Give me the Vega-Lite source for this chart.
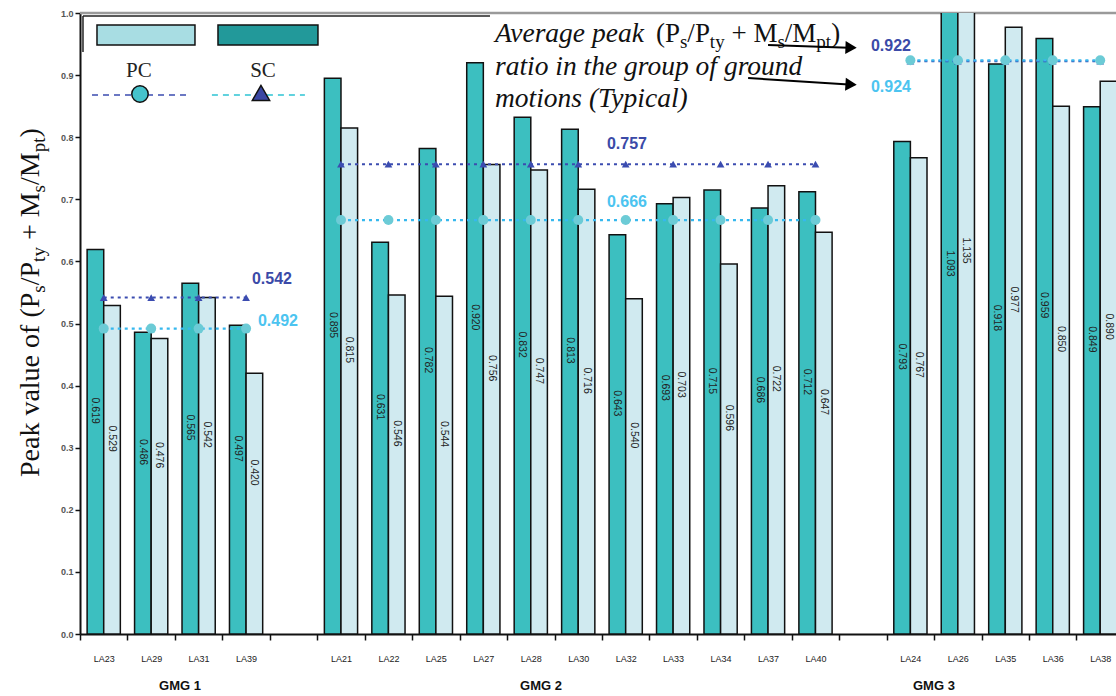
{
  "$schema": "https://vega.github.io/schema/vega-lite/v6.json",
  "width": 1036,
  "height": 621,
  "autosize": {"type": "none"},
  "padding": {"left": 80, "top": 13, "right": 0, "bottom": 62},
  "background": "white",
  "config": {"view": {"stroke": null}, "font": "Liberation Sans"},
  "data": {
    "values": [
      {"group": "GMG 1", "la": "LA23", "series": "SC", "value": 0.619},
      {"group": "GMG 1", "la": "LA23", "series": "PC", "value": 0.529},
      {"group": "GMG 1", "la": "LA29", "series": "SC", "value": 0.486},
      {"group": "GMG 1", "la": "LA29", "series": "PC", "value": 0.476},
      {"group": "GMG 1", "la": "LA31", "series": "SC", "value": 0.565},
      {"group": "GMG 1", "la": "LA31", "series": "PC", "value": 0.542},
      {"group": "GMG 1", "la": "LA39", "series": "SC", "value": 0.497},
      {"group": "GMG 1", "la": "LA39", "series": "PC", "value": 0.420},
      {"group": "GMG 2", "la": "LA21", "series": "SC", "value": 0.895},
      {"group": "GMG 2", "la": "LA21", "series": "PC", "value": 0.815},
      {"group": "GMG 2", "la": "LA22", "series": "SC", "value": 0.631},
      {"group": "GMG 2", "la": "LA22", "series": "PC", "value": 0.546},
      {"group": "GMG 2", "la": "LA25", "series": "SC", "value": 0.782},
      {"group": "GMG 2", "la": "LA25", "series": "PC", "value": 0.544},
      {"group": "GMG 2", "la": "LA27", "series": "SC", "value": 0.920},
      {"group": "GMG 2", "la": "LA27", "series": "PC", "value": 0.756},
      {"group": "GMG 2", "la": "LA28", "series": "SC", "value": 0.832},
      {"group": "GMG 2", "la": "LA28", "series": "PC", "value": 0.747},
      {"group": "GMG 2", "la": "LA30", "series": "SC", "value": 0.813},
      {"group": "GMG 2", "la": "LA30", "series": "PC", "value": 0.716},
      {"group": "GMG 2", "la": "LA32", "series": "SC", "value": 0.643},
      {"group": "GMG 2", "la": "LA32", "series": "PC", "value": 0.540},
      {"group": "GMG 2", "la": "LA33", "series": "SC", "value": 0.693},
      {"group": "GMG 2", "la": "LA33", "series": "PC", "value": 0.703},
      {"group": "GMG 2", "la": "LA34", "series": "SC", "value": 0.715},
      {"group": "GMG 2", "la": "LA34", "series": "PC", "value": 0.596},
      {"group": "GMG 2", "la": "LA37", "series": "SC", "value": 0.686},
      {"group": "GMG 2", "la": "LA37", "series": "PC", "value": 0.722},
      {"group": "GMG 2", "la": "LA40", "series": "SC", "value": 0.712},
      {"group": "GMG 2", "la": "LA40", "series": "PC", "value": 0.647},
      {"group": "GMG 3", "la": "LA24", "series": "SC", "value": 0.793},
      {"group": "GMG 3", "la": "LA24", "series": "PC", "value": 0.767},
      {"group": "GMG 3", "la": "LA26", "series": "SC", "value": 1.093},
      {"group": "GMG 3", "la": "LA26", "series": "PC", "value": 1.135},
      {"group": "GMG 3", "la": "LA35", "series": "SC", "value": 0.918},
      {"group": "GMG 3", "la": "LA35", "series": "PC", "value": 0.977},
      {"group": "GMG 3", "la": "LA36", "series": "SC", "value": 0.959},
      {"group": "GMG 3", "la": "LA36", "series": "PC", "value": 0.850},
      {"group": "GMG 3", "la": "LA38", "series": "SC", "value": 0.849},
      {"group": "GMG 3", "la": "LA38", "series": "PC", "value": 0.890}
    ]
  },
  "transform": [
    {"calculate": "indexof(['LA23','LA29','LA31','LA39','','LA21','LA22','LA25','LA27','LA28','LA30','LA32','LA33','LA34','LA37','LA40','','LA24','LA26','LA35','LA36','LA38'], datum.la)", "as": "slot"},
    {"calculate": "datum.slot + (datum.series == 'SC' ? 0.15 : 0.5)", "as": "x0"},
    {"calculate": "datum.x0 + 0.35", "as": "x1"},
    {"calculate": "datum.x0 + 0.175", "as": "xm"},
    {"calculate": "datum.slot + 0.5", "as": "xc"},
    {"calculate": "datum.value * 0.5 + 0.05", "as": "labelPos"},
    {"joinaggregate": [{"op": "mean", "field": "value", "as": "avg"}], "groupby": ["group", "series"]}
  ],
  "layer": [
    {
      "mark": {"type": "rule", "color": "#9a9a9a", "strokeWidth": 2.5},
      "data": {"values": [{}]},
      "encoding": {
        "x": {"datum": 0, "type": "quantitative"},
        "x2": {"datum": 21.833},
        "y": {"datum": 1, "type": "quantitative"}
      }
    },
    {
      "mark": {"type": "rect", "stroke": "#111", "strokeWidth": 1.5, "clip": true},
      "encoding": {
        "x": {
          "field": "x0",
          "type": "quantitative",
          "scale": {"domain": [0, 21.833], "nice": false, "zero": false, "padding": 0},
          "axis": {
            "title": null,
            "values": [0, 1, 2, 3, 4, 5, 6, 7, 8, 9, 10, 11, 12, 13, 14, 15, 16, 17, 18, 19, 20, 21],
            "labelExpr": "['LA23','LA29','LA31','LA39','','LA21','LA22','LA25','LA27','LA28','LA30','LA32','LA33','LA34','LA37','LA40','','LA24','LA26','LA35','LA36','LA38'][datum.value]",
            "labelOffset": 23.7,
            "labelFlush": false,
            "labelBound": false,
            "labelOverlap": false,
            "labelAngle": 0,
            "labelFont": "Liberation Sans",
            "labelFontSize": 9,
            "labelColor": "#222",
            "labelPadding": 14,
            "grid": false,
            "tickSize": 6,
            "tickColor": "#111",
            "tickWidth": 1.5,
            "domainColor": "#111",
            "domainWidth": 2
          }
        },
        "x2": {"field": "x1"},
        "y": {
          "field": "value",
          "type": "quantitative",
          "scale": {"domain": [0, 1], "nice": false, "padding": 0},
          "axis": {
            "title": null,
            "values": [0, 0.1, 0.2, 0.3, 0.4, 0.5, 0.6, 0.7, 0.8, 0.9, 1.0],
            "format": ".1f",
            "grid": false,
            "labelFont": "Liberation Sans",
            "labelFontWeight": "bold",
            "labelFontSize": 9,
            "labelColor": "#555",
            "labelPadding": 2,
            "tickSize": 5,
            "tickColor": "#111",
            "tickWidth": 1.5,
            "domainColor": "#111",
            "domainWidth": 2
          }
        },
        "y2": {"datum": 0},
        "fill": {"field": "series", "type": "nominal", "scale": {"domain": ["SC", "PC"], "range": ["#3cbfc0", "#d0eaf0"]}, "legend": null}
      }
    },
    {
      "mark": {"type": "text", "angle": 90, "fontSize": 10.5, "color": "#222", "align": "center", "baseline": "middle", "clip": true},
      "encoding": {
        "x": {"field": "xm", "type": "quantitative"},
        "y": {"field": "labelPos", "type": "quantitative"},
        "text": {"field": "value", "type": "quantitative", "format": ".3f"}
      }
    },
    {
      "transform": [{"filter": "datum.series == 'SC'"}],
      "mark": {"type": "line", "color": "#3b4cb0", "strokeWidth": 2, "strokeDash": [3, 4]},
      "encoding": {
        "x": {"field": "xc", "type": "quantitative"},
        "y": {"field": "avg", "type": "quantitative"},
        "detail": {"field": "group", "type": "nominal"}
      }
    },
    {
      "transform": [{"filter": "datum.series == 'SC'"}],
      "mark": {"type": "point", "shape": "triangle-up", "filled": true, "color": "#3b4cb0", "size": 60, "opacity": 1},
      "encoding": {
        "x": {"field": "xc", "type": "quantitative"},
        "y": {"field": "avg", "type": "quantitative"}
      }
    },
    {
      "transform": [{"filter": "datum.series == 'PC'"}],
      "mark": {"type": "line", "color": "#36b8ee", "strokeWidth": 2.2, "strokeDash": [3, 4]},
      "encoding": {
        "x": {"field": "xc", "type": "quantitative"},
        "y": {"field": "avg", "type": "quantitative"},
        "detail": {"field": "group", "type": "nominal"}
      }
    },
    {
      "transform": [{"filter": "datum.series == 'PC'"}],
      "mark": {"type": "point", "shape": "circle", "filled": true, "color": "#6ccbd6", "size": 100, "opacity": 1},
      "encoding": {
        "x": {"field": "xc", "type": "quantitative"},
        "y": {"field": "avg", "type": "quantitative"}
      }
    },
    {
      "data": {"values": [{}]},
      "mark": {"type": "text", "text": "Peak value of (P", "font": "Liberation Serif", "fontSize": 28, "angle": -90, "color": "#111", "align": "left", "baseline": "alphabetic"},
      "encoding": {"x": {"datum": -0.864, "type": "quantitative"}, "y": {"datum": 0.2528, "type": "quantitative"}}
    },
    {
      "data": {"values": [{}]},
      "mark": {"type": "text", "text": "s", "font": "Liberation Serif", "fontSize": 19, "angle": -90, "color": "#111", "align": "left", "baseline": "alphabetic"},
      "encoding": {"x": {"datum": -0.7376, "type": "quantitative"}, "y": {"datum": 0.5496, "type": "quantitative"}}
    },
    {
      "data": {"values": [{}]},
      "mark": {"type": "text", "text": "/P", "font": "Liberation Serif", "fontSize": 28, "angle": -90, "color": "#111", "align": "left", "baseline": "alphabetic"},
      "encoding": {"x": {"datum": -0.864, "type": "quantitative"}, "y": {"datum": 0.5615, "type": "quantitative"}}
    },
    {
      "data": {"values": [{}]},
      "mark": {"type": "text", "text": "ty", "font": "Liberation Serif", "fontSize": 19, "angle": -90, "color": "#111", "align": "left", "baseline": "alphabetic"},
      "encoding": {"x": {"datum": -0.7376, "type": "quantitative"}, "y": {"datum": 0.5992, "type": "quantitative"}}
    },
    {
      "data": {"values": [{}]},
      "mark": {"type": "text", "text": "+ M", "font": "Liberation Serif", "fontSize": 28, "angle": -90, "color": "#111", "align": "left", "baseline": "alphabetic"},
      "encoding": {"x": {"datum": -0.864, "type": "quantitative"}, "y": {"datum": 0.6343, "type": "quantitative"}}
    },
    {
      "data": {"values": [{}]},
      "mark": {"type": "text", "text": "s", "font": "Liberation Serif", "fontSize": 19, "angle": -90, "color": "#111", "align": "left", "baseline": "alphabetic"},
      "encoding": {"x": {"datum": -0.7376, "type": "quantitative"}, "y": {"datum": 0.7111, "type": "quantitative"}}
    },
    {
      "data": {"values": [{}]},
      "mark": {"type": "text", "text": "/M", "font": "Liberation Serif", "fontSize": 28, "angle": -90, "color": "#111", "align": "left", "baseline": "alphabetic"},
      "encoding": {"x": {"datum": -0.864, "type": "quantitative"}, "y": {"datum": 0.7230, "type": "quantitative"}}
    },
    {
      "data": {"values": [{}]},
      "mark": {"type": "text", "text": "pt", "font": "Liberation Serif", "fontSize": 19, "angle": -90, "color": "#111", "align": "left", "baseline": "alphabetic"},
      "encoding": {"x": {"datum": -0.7376, "type": "quantitative"}, "y": {"datum": 0.7757, "type": "quantitative"}}
    },
    {
      "data": {"values": [{}]},
      "mark": {"type": "text", "text": ")", "font": "Liberation Serif", "fontSize": 28, "angle": -90, "color": "#111", "align": "left", "baseline": "alphabetic"},
      "encoding": {"x": {"datum": -0.864, "type": "quantitative"}, "y": {"datum": 0.7995, "type": "quantitative"}}
    },
    {
      "data": {"values": [{}]},
      "mark": {"type": "rule", "color": "#222", "strokeWidth": 1.5},
      "encoding": {
        "x": {"datum": 0.063, "type": "quantitative"},
        "x2": {"datum": 8.64},
        "y": {"datum": 0.9952, "type": "quantitative"}
      }
    },
    {
      "data": {"values": [{}]},
      "mark": {"type": "rule", "color": "#222", "strokeWidth": 1.5},
      "encoding": {
        "x": {"datum": 0.063, "type": "quantitative"},
        "y": {"datum": 0.9952, "type": "quantitative"},
        "y2": {"datum": 0.9372}
      }
    },
    {
      "data": {"values": [{}]},
      "mark": {"type": "rect", "fill": "#a8dde3", "stroke": "#111", "strokeWidth": 1.5},
      "encoding": {
        "x": {"datum": 0.358, "type": "quantitative"},
        "x2": {"datum": 2.423},
        "y": {"datum": 0.9807, "type": "quantitative"},
        "y2": {"datum": 0.9485}
      }
    },
    {
      "data": {"values": [{}]},
      "mark": {"type": "rect", "fill": "#22999a", "stroke": "#111", "strokeWidth": 1.5},
      "encoding": {
        "x": {"datum": 2.908, "type": "quantitative"},
        "x2": {"datum": 5.015},
        "y": {"datum": 0.9807, "type": "quantitative"},
        "y2": {"datum": 0.9485}
      }
    },
    {
      "data": {"values": [{}]},
      "mark": {"type": "text", "text": "PC", "font": "Liberation Serif", "fontSize": 21, "color": "#222", "align": "center", "baseline": "middle"},
      "encoding": {"x": {"datum": 1.24, "type": "quantitative"}, "y": {"datum": 0.906, "type": "quantitative"}}
    },
    {
      "data": {"values": [{}]},
      "mark": {"type": "text", "text": "SC", "font": "Liberation Serif", "fontSize": 21, "color": "#222", "align": "center", "baseline": "middle"},
      "encoding": {"x": {"datum": 3.856, "type": "quantitative"}, "y": {"datum": 0.906, "type": "quantitative"}}
    },
    {
      "data": {"values": [{}]},
      "mark": {"type": "rule", "color": "#3b4cb0", "strokeWidth": 1.5, "strokeDash": [6, 5]},
      "encoding": {
        "x": {"datum": 0.253, "type": "quantitative"},
        "x2": {"datum": 2.255},
        "y": {"datum": 0.868, "type": "quantitative"}
      }
    },
    {
      "data": {"values": [{}]},
      "mark": {"type": "point", "shape": "circle", "filled": true, "fill": "#46c3cc", "stroke": "#111", "strokeWidth": 1.5, "size": 270, "opacity": 1},
      "encoding": {"x": {"datum": 1.264, "type": "quantitative"}, "y": {"datum": 0.8696, "type": "quantitative"}}
    },
    {
      "data": {"values": [{}]},
      "mark": {"type": "rule", "color": "#2ec4d4", "strokeWidth": 1.5, "strokeDash": [6, 5]},
      "encoding": {
        "x": {"datum": 2.78, "type": "quantitative"},
        "x2": {"datum": 4.74},
        "y": {"datum": 0.868, "type": "quantitative"}
      }
    },
    {
      "data": {"values": [{}]},
      "mark": {"type": "point", "shape": "triangle-up", "filled": true, "fill": "#3a47a3", "stroke": "#111", "strokeWidth": 1.5, "size": 300, "opacity": 1},
      "encoding": {"x": {"datum": 3.814, "type": "quantitative"}, "y": {"datum": 0.8712, "type": "quantitative"}}
    },
    {
      "data": {"values": [{}]},
      "mark": {"type": "text", "text": "Average peak", "font": "Liberation Serif", "fontStyle": "italic", "fontSize": 27.5, "color": "#111", "align": "left", "baseline": "alphabetic"},
      "encoding": {"x": {"datum": 8.745, "type": "quantitative"}, "y": {"datum": 0.9533, "type": "quantitative"}}
    },
    {
      "data": {"values": [{}]},
      "mark": {"type": "text", "text": "(P", "font": "Liberation Serif", "fontSize": 27, "color": "#111", "align": "left", "baseline": "alphabetic"},
      "encoding": {"x": {"datum": 12.138, "type": "quantitative"}, "y": {"datum": 0.9533, "type": "quantitative"}}
    },
    {
      "data": {"values": [{}]},
      "mark": {"type": "text", "text": "s", "font": "Liberation Serif", "fontSize": 19, "color": "#111", "align": "left", "baseline": "alphabetic"},
      "encoding": {"x": {"datum": 12.644, "type": "quantitative"}, "y": {"datum": 0.9436, "type": "quantitative"}}
    },
    {
      "data": {"values": [{}]},
      "mark": {"type": "text", "text": "/P", "font": "Liberation Serif", "fontSize": 27, "color": "#111", "align": "left", "baseline": "alphabetic"},
      "encoding": {"x": {"datum": 12.8, "type": "quantitative"}, "y": {"datum": 0.9533, "type": "quantitative"}}
    },
    {
      "data": {"values": [{}]},
      "mark": {"type": "text", "text": "ty", "font": "Liberation Serif", "fontSize": 19, "color": "#111", "align": "left", "baseline": "alphabetic"},
      "encoding": {"x": {"datum": 13.274, "type": "quantitative"}, "y": {"datum": 0.9436, "type": "quantitative"}}
    },
    {
      "data": {"values": [{}]},
      "mark": {"type": "text", "text": "+ M", "font": "Liberation Serif", "fontSize": 27, "color": "#111", "align": "left", "baseline": "alphabetic"},
      "encoding": {"x": {"datum": 13.729, "type": "quantitative"}, "y": {"datum": 0.9533, "type": "quantitative"}}
    },
    {
      "data": {"values": [{}]},
      "mark": {"type": "text", "text": "s", "font": "Liberation Serif", "fontSize": 19, "color": "#111", "align": "left", "baseline": "alphabetic"},
      "encoding": {"x": {"datum": 14.698, "type": "quantitative"}, "y": {"datum": 0.9436, "type": "quantitative"}}
    },
    {
      "data": {"values": [{}]},
      "mark": {"type": "text", "text": "/M", "font": "Liberation Serif", "fontSize": 27, "color": "#111", "align": "left", "baseline": "alphabetic"},
      "encoding": {"x": {"datum": 14.854, "type": "quantitative"}, "y": {"datum": 0.9533, "type": "quantitative"}}
    },
    {
      "data": {"values": [{}]},
      "mark": {"type": "text", "text": "pt", "font": "Liberation Serif", "fontSize": 19, "color": "#111", "align": "left", "baseline": "alphabetic"},
      "encoding": {"x": {"datum": 15.518, "type": "quantitative"}, "y": {"datum": 0.9436, "type": "quantitative"}}
    },
    {
      "data": {"values": [{}]},
      "mark": {"type": "text", "text": ")", "font": "Liberation Serif", "fontSize": 27, "color": "#111", "align": "left", "baseline": "alphabetic"},
      "encoding": {"x": {"datum": 15.83, "type": "quantitative"}, "y": {"datum": 0.9533, "type": "quantitative"}}
    },
    {
      "data": {"values": [{}]},
      "mark": {"type": "text", "text": "ratio in the group of ground", "font": "Liberation Serif", "fontStyle": "italic", "fontSize": 27.5, "color": "#111", "align": "left", "baseline": "alphabetic"},
      "encoding": {"x": {"datum": 8.745, "type": "quantitative"}, "y": {"datum": 0.9002, "type": "quantitative"}}
    },
    {
      "data": {"values": [{}]},
      "mark": {"type": "text", "text": "motions (Typical)", "font": "Liberation Serif", "fontStyle": "italic", "fontSize": 27.5, "color": "#111", "align": "left", "baseline": "alphabetic"},
      "encoding": {"x": {"datum": 8.745, "type": "quantitative"}, "y": {"datum": 0.8486, "type": "quantitative"}}
    },
    {
      "data": {"values": [{}]},
      "mark": {"type": "rule", "color": "#000", "strokeWidth": 2},
      "encoding": {
        "x": {"datum": 14.5, "type": "quantitative"},
        "x2": {"datum": 16.2},
        "y": {"datum": 0.9485, "type": "quantitative"},
        "y2": {"datum": 0.9442}
      }
    },
    {
      "data": {"values": [{}]},
      "mark": {"type": "point", "shape": "triangle-right", "filled": true, "color": "#000", "size": 170, "opacity": 1, "angle": 2},
      "encoding": {"x": {"datum": 16.25, "type": "quantitative"}, "y": {"datum": 0.9442, "type": "quantitative"}}
    },
    {
      "data": {"values": [{}]},
      "mark": {"type": "rule", "color": "#000", "strokeWidth": 2},
      "encoding": {
        "x": {"datum": 14.08, "type": "quantitative"},
        "x2": {"datum": 16.2},
        "y": {"datum": 0.8953, "type": "quantitative"},
        "y2": {"datum": 0.8849}
      }
    },
    {
      "data": {"values": [{}]},
      "mark": {"type": "point", "shape": "triangle-right", "filled": true, "color": "#000", "size": 170, "opacity": 1, "angle": 3.5},
      "encoding": {"x": {"datum": 16.25, "type": "quantitative"}, "y": {"datum": 0.8849, "type": "quantitative"}}
    },
    {
      "data": {"values": [{}]},
      "mark": {"type": "text", "text": "0.542", "fontSize": 16, "fontWeight": "bold", "color": "#3b4aa8", "align": "center", "baseline": "middle"},
      "encoding": {"x": {"datum": 4.046, "type": "quantitative"}, "y": {"datum": 0.5717, "type": "quantitative"}}
    },
    {
      "data": {"values": [{}]},
      "mark": {"type": "text", "text": "0.492", "fontSize": 16, "fontWeight": "bold", "color": "#4cc4f0", "align": "center", "baseline": "middle"},
      "encoding": {"x": {"datum": 4.172, "type": "quantitative"}, "y": {"datum": 0.504, "type": "quantitative"}}
    },
    {
      "data": {"values": [{}]},
      "mark": {"type": "text", "text": "0.757", "fontSize": 16, "fontWeight": "bold", "color": "#3b4aa8", "align": "center", "baseline": "middle"},
      "encoding": {"x": {"datum": 11.527, "type": "quantitative"}, "y": {"datum": 0.789, "type": "quantitative"}}
    },
    {
      "data": {"values": [{}]},
      "mark": {"type": "text", "text": "0.666", "fontSize": 16, "fontWeight": "bold", "color": "#4cc4f0", "align": "center", "baseline": "middle"},
      "encoding": {"x": {"datum": 11.527, "type": "quantitative"}, "y": {"datum": 0.6957, "type": "quantitative"}}
    },
    {
      "data": {"values": [{}]},
      "mark": {"type": "text", "text": "0.922", "fontSize": 16, "fontWeight": "bold", "color": "#3b4aa8", "align": "center", "baseline": "middle"},
      "encoding": {"x": {"datum": 17.09, "type": "quantitative"}, "y": {"datum": 0.9469, "type": "quantitative"}}
    },
    {
      "data": {"values": [{}]},
      "mark": {"type": "text", "text": "0.924", "fontSize": 16, "fontWeight": "bold", "color": "#4cc4f0", "align": "center", "baseline": "middle"},
      "encoding": {"x": {"datum": 17.09, "type": "quantitative"}, "y": {"datum": 0.8808, "type": "quantitative"}}
    },
    {
      "data": {"values": [{}]},
      "mark": {"type": "text", "text": "GMG 1", "fontSize": 13, "fontWeight": "bold", "color": "#111", "align": "center", "baseline": "middle"},
      "encoding": {"x": {"datum": 2.107, "type": "quantitative"}, "y": {"datum": -0.0837, "type": "quantitative"}}
    },
    {
      "data": {"values": [{}]},
      "mark": {"type": "text", "text": "GMG 2", "fontSize": 13, "fontWeight": "bold", "color": "#111", "align": "center", "baseline": "middle"},
      "encoding": {"x": {"datum": 9.715, "type": "quantitative"}, "y": {"datum": -0.0837, "type": "quantitative"}}
    },
    {
      "data": {"values": [{}]},
      "mark": {"type": "text", "text": "GMG 3", "fontSize": 13, "fontWeight": "bold", "color": "#111", "align": "center", "baseline": "middle"},
      "encoding": {"x": {"datum": 17.996, "type": "quantitative"}, "y": {"datum": -0.0837, "type": "quantitative"}}
    }
  ]
}
